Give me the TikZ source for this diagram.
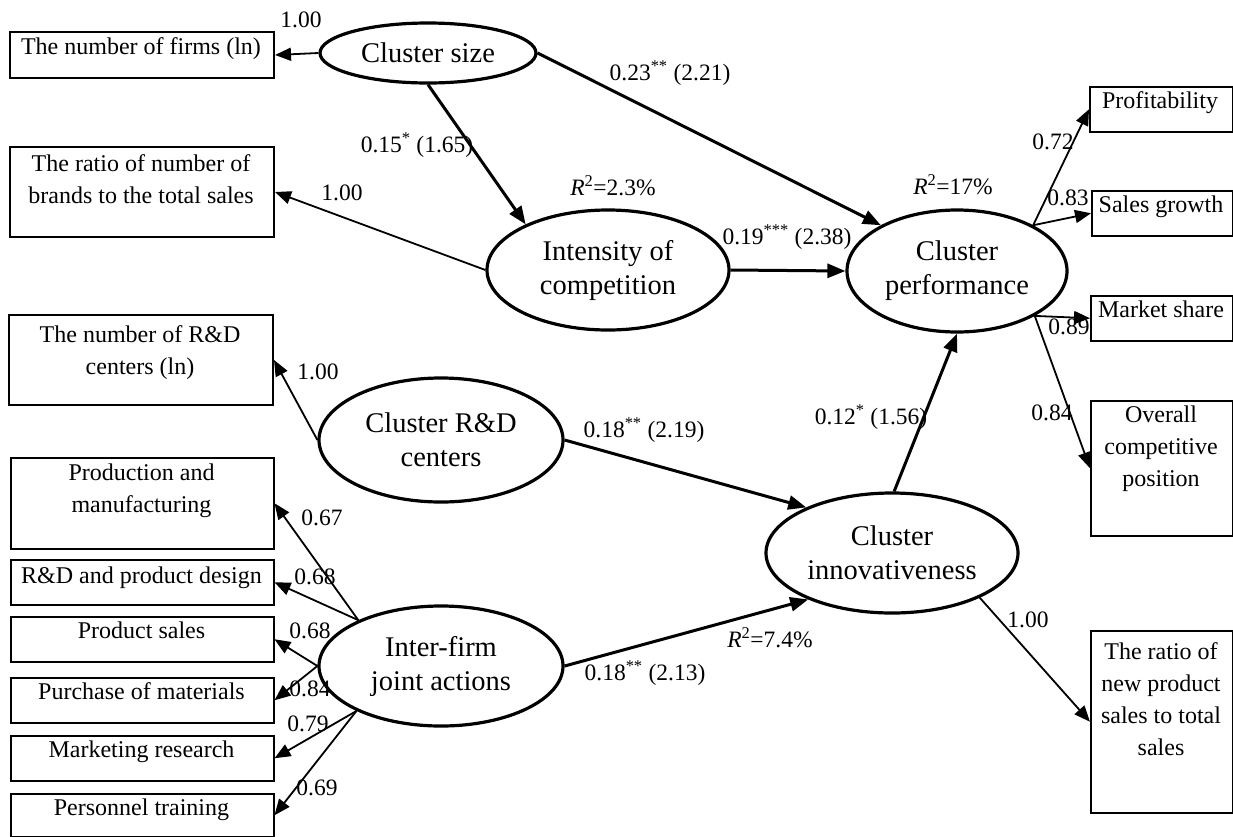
\documentclass[tikz,border=0pt]{standalone}
\usepackage{fontspec}
\setmainfont{Liberation Serif}
\usetikzlibrary{arrows.meta,shapes.geometric,calc}
\begin{document}
\begin{tikzpicture}[x=1pt,y=-1pt,
  lat/.style={ellipse, draw, line width=3.2pt, inner sep=0pt, align=center, font=\fontsize{28.5}{34}\selectfont},
  obs/.style={draw, line width=1.5pt, rectangle, inner sep=0pt, anchor=north west},
  obsthick/.style={obs, line width=2pt},
  btxt/.style={anchor=north, inner sep=0pt, align=center, font=\fontsize{24}{32}\selectfont},
  lbl/.style={inner sep=0pt, font=\fontsize{23.5}{26}\selectfont},
  struct/.style={line width=3pt, -{Triangle[length=18pt,width=14pt]}},
  meas/.style={line width=1.8pt, -{Triangle[length=16pt,width=13pt]}},
]
\useasboundingbox (0,0) rectangle (1233,836);

% latent variables
\node[lat, minimum width=216pt, minimum height=60pt] (cs) at (428,53) {Cluster size};
\node[lat, minimum width=242pt, minimum height=120pt] (int) at (608,270) {Intensity of\\competition};
\node[lat, minimum width=220pt, minimum height=122pt] (perf) at (957,271) {Cluster\\performance};
\node[lat, minimum width=244pt, minimum height=124pt] (rd) at (441,440) {Cluster R\&D\\centers};
\node[lat, minimum width=252pt, minimum height=120pt] (inn) at (892,553) {Cluster\\innovativeness};
\node[lat, minimum width=244pt, minimum height=120pt] (jo) at (441,666) {Inter-firm\\joint actions};

% observed indicators (boxes)
\node[obsthick, minimum width=264pt, minimum height=46pt] (b1) at (9,31) {};
\node[obsthick, minimum width=264pt, minimum height=90pt] (b2) at (9,146) {};
\node[obsthick, minimum width=264pt, minimum height=90pt] (b3) at (8,314) {};
\node[obs, minimum width=263pt, minimum height=91pt] (pm) at (10,457) {};
\node[obs, minimum width=263pt, minimum height=45pt] (rdd) at (10,559) {};
\node[obs, minimum width=263pt, minimum height=45pt] (ps) at (10,616) {};
\node[obs, minimum width=263pt, minimum height=45pt] (pu) at (10,677) {};
\node[obs, minimum width=263pt, minimum height=45pt] (mr) at (10,735) {};
\node[obs, minimum width=263pt, minimum height=43pt] (pt) at (10,793) {};
\node[obs, minimum width=143pt, minimum height=45pt] (prof) at (1089,86) {};
\node[obs, minimum width=141pt, minimum height=45pt] (sg) at (1091,190) {};
\node[obs, minimum width=142pt, minimum height=45pt] (ms) at (1090,295) {};
\node[obs, minimum width=142pt, minimum height=135pt] (ov) at (1090,400) {};
\node[obs, minimum width=142pt, minimum height=182pt] (rn) at (1090,630) {};

% box texts
\node[btxt] (t1) at (141,37) {The number of firms (ln)};
\node[btxt] (t2) at (141,154) {The ratio of number of\\brands to the total sales};
\node[btxt] (t3) at (140,325) {The number of R\&D\\centers (ln)};
\node[btxt] (t4) at (141.5,464) {Production and\\manufacturing};
\node[btxt] (t5) at (141.5,567) {R\&D and product design};
\node[btxt] (t6) at (141.5,622) {Product sales};
\node[btxt] (t7) at (141.5,682) {Purchase of materials};
\node[btxt] (t8) at (141.5,741) {Marketing research};
\node[btxt] (t9) at (141.5,799) {Personnel training};
\node[btxt] (t10) at (1160,91) {Profitability};
\node[btxt] (t11) at (1161,196) {Sales growth};
\node[btxt] (t12) at (1161,301) {Market share};
\node[btxt] (t13) at (1161,406) {Overall\\competitive\\position};
\node[btxt] (t14) at (1161,642) {The ratio of\\new product\\sales to total\\sales};

% structural paths
\draw[struct] (cs.south) -- (int.151);
\draw[struct] (cs.east) -- (perf.149);
\draw[struct] (int.east) -- (perf.west);
\draw[struct] (rd.east) -- (inn.152);
\draw[struct] (jo.east) -- (inn.209);
\draw[struct] (inn.88) -- (perf.south);

% measurement paths
\draw[meas] (cs.west) -- (b1.east);
\draw[meas] (int.west) -- (b2.east);
\draw[meas] (rd.west) -- (b3.east);
\draw[meas] (perf.31) -- (prof.west);
\draw[meas] (perf.31) -- (sg.west);
\draw[meas] (perf.330) -- (ms.west);
\draw[meas] (perf.330) -- (ov.west);
\draw[meas] (inn.333) -- (rn.west);
\draw[meas] (jo.151) -- (pm.east);
\draw[meas] (jo.151) -- (rdd.east);
\draw[meas] (jo.west) -- (ps.east);
\draw[meas] (jo.west) -- (pu.east);
\draw[meas] (jo.208) -- (mr.east);
\draw[meas] (jo.208) -- (pt.east);

% labels
\node[lbl] (l1) at (301,20) {1.00};
\node[lbl] (l2) at (342,193) {1.00};
\node[lbl] (l3) at (417,145) {0.15\textsuperscript{*} (1.65)};
\node[lbl] (l4) at (670,73) {0.23\textsuperscript{**} (2.21)};
\node[lbl] (l5) at (787,237) {0.19\textsuperscript{***} (2.38)};
\node[lbl] (r1) at (613,186) {\textit{R}\textsuperscript{2}=2.3\%};
\node[lbl] (r2) at (953,185) {\textit{R}\textsuperscript{2}=17\%};
\node[lbl] (r3) at (770,638) {\textit{R}\textsuperscript{2}=7.4\%};
\node[lbl] (l6) at (1053,142) {0.72};
\node[lbl] (l7) at (1068,198) {0.83};
\node[lbl] (l8) at (1069,327) {0.89};
\node[lbl] (l9) at (1052,413) {0.84};
\node[lbl] (l10) at (318,372) {1.00};
\node[lbl] (l11) at (644,430) {0.18\textsuperscript{**} (2.19)};
\node[lbl] (l12) at (871,417) {0.12\textsuperscript{*} (1.56)};
\node[lbl] (l13) at (322,518) {0.67};
\node[lbl] (l14) at (315,577) {0.68};
\node[lbl] (l15) at (310,631) {0.68};
\node[lbl] (l16) at (310,689) {0.84};
\node[lbl] (l17) at (308,724) {0.79};
\node[lbl] (l18) at (317,788) {0.69};
\node[lbl] (l19) at (645,673) {0.18\textsuperscript{**} (2.13)};
\node[lbl] (l20) at (1028,620) {1.00};
\end{tikzpicture}
\end{document}
